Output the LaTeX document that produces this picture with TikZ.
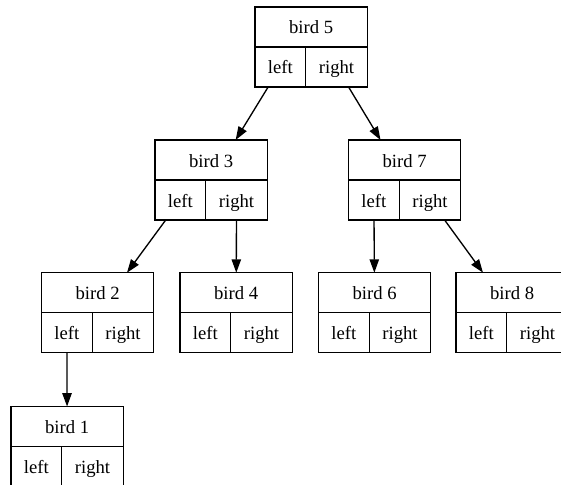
\documentclass[tikz,border=0pt]{standalone}
\usepackage{fontspec}
\setmainfont{Liberation Serif}
\usetikzlibrary{arrows.meta,fit}

% One record: a title cell on top, "left" and "right" cells below,
% and an invisible node (#1) around the whole record for the links.
\newcommand\birdrecord[4]{%
  \node[cellbox,minimum width=84.2pt] (#1t) at (#3,#4) {#2};
  \node[cellbox,minimum width=38.1pt] (#1l) at (#3,#4+40) {left};
  \node[cellbox,minimum width=46.1pt] (#1r) at (#3+50.8,#4+40) {right};
  \node[wholebox,fit=(#1t)(#1l)(#1r)] (#1) {};
}

\begin{document}
\begin{tikzpicture}[x=0.75pt,y=-0.75pt,
  cellbox/.style={draw,line width=1pt,inner sep=0pt,outer sep=0pt,
    minimum height=30pt,text height=13pt,text depth=2.5pt,
    anchor=north west,font=\fontsize{14pt}{16pt}\selectfont},
  wholebox/.style={inner sep=0pt,outer sep=0pt},
  link/.style={line width=1pt,-{Triangle[length=10pt,width=7pt]}}]

  \fill[white] (0,0) rectangle (561,485);
  \useasboundingbox (0,0) rectangle (561,485);

  \birdrecord{b5}{bird 5}{255}{7}
  \birdrecord{b3}{bird 3}{155}{140}
  \birdrecord{b7}{bird 7}{348.5}{140}
  \birdrecord{b2}{bird 2}{41.5}{272.7}
  \birdrecord{b4}{bird 4}{180}{272.7}
  \birdrecord{b6}{bird 6}{318.5}{272.7}
  \birdrecord{b8}{bird 8}{456}{272.7}
  \birdrecord{b1}{bird 1}{11}{406.5}

  \draw[link] (b5l) -- (b3);
  \draw[link] (b5r) -- (b7);
  \draw[link] (b3l) -- (b2);
  \draw[link] (b3r) -- (b4);
  \draw[link] (b7l) -- (b6);
  \draw[link] (b7r) -- (b8);
  \draw[link] (b2l) -- (b1);
\end{tikzpicture}
\end{document}
